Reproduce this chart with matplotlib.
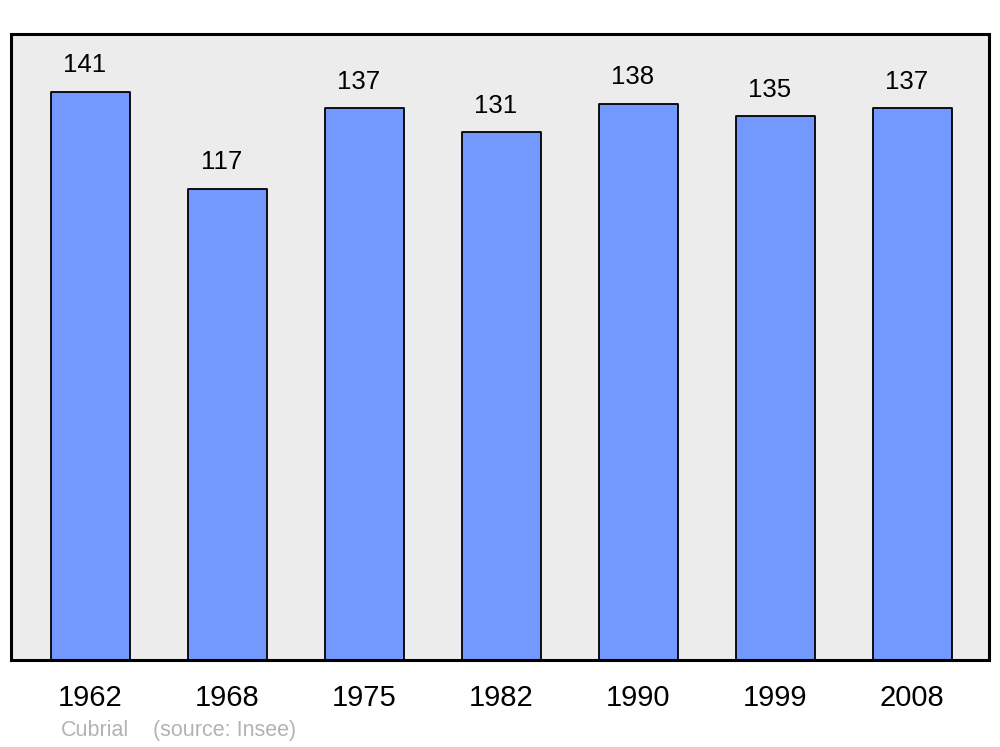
import matplotlib.pyplot as plt

plt.rcParams['font.family'] = ['Liberation Sans', 'DejaVu Sans']

years = ['1962', '1968', '1975', '1982', '1990', '1999', '2008']
population = [141, 117, 137, 131, 138, 135, 137]

fig = plt.figure(figsize=(10, 7.47), dpi=100)
ax = fig.add_axes([0.011, 0.1165, 0.978, 0.838])
ax.set_facecolor('#ececec')

x = range(len(years))
ax.bar(x, population, width=0.575, color='#7399ff', edgecolor='black',
       linewidth=1.3, joinstyle='round', zorder=2)

for i, v in zip(x, population):
    ax.text(i - 0.04, v + 6.6, str(v), ha='center', va='center', fontsize=18.5)

ax.set_xlim(-0.58, 6.56)
ax.set_ylim(0, 155.4)
ax.set_xticks(list(x))
ax.set_xticklabels(years, fontsize=21)
ax.tick_params(axis='x', length=0, pad=17)
ax.set_yticks([])
for s in ax.spines.values():
    s.set_linewidth(2.2)
    s.set_joinstyle('round')

fig.text(0.061, 0.0225, 'Cubrial', color='#b3b3b3', fontsize=15.5, va='center')
fig.text(0.153, 0.0225, '(source: Insee)', color='#b3b3b3', fontsize=15.5, va='center')

fig.savefig('out.png', dpi=100, facecolor='white')
